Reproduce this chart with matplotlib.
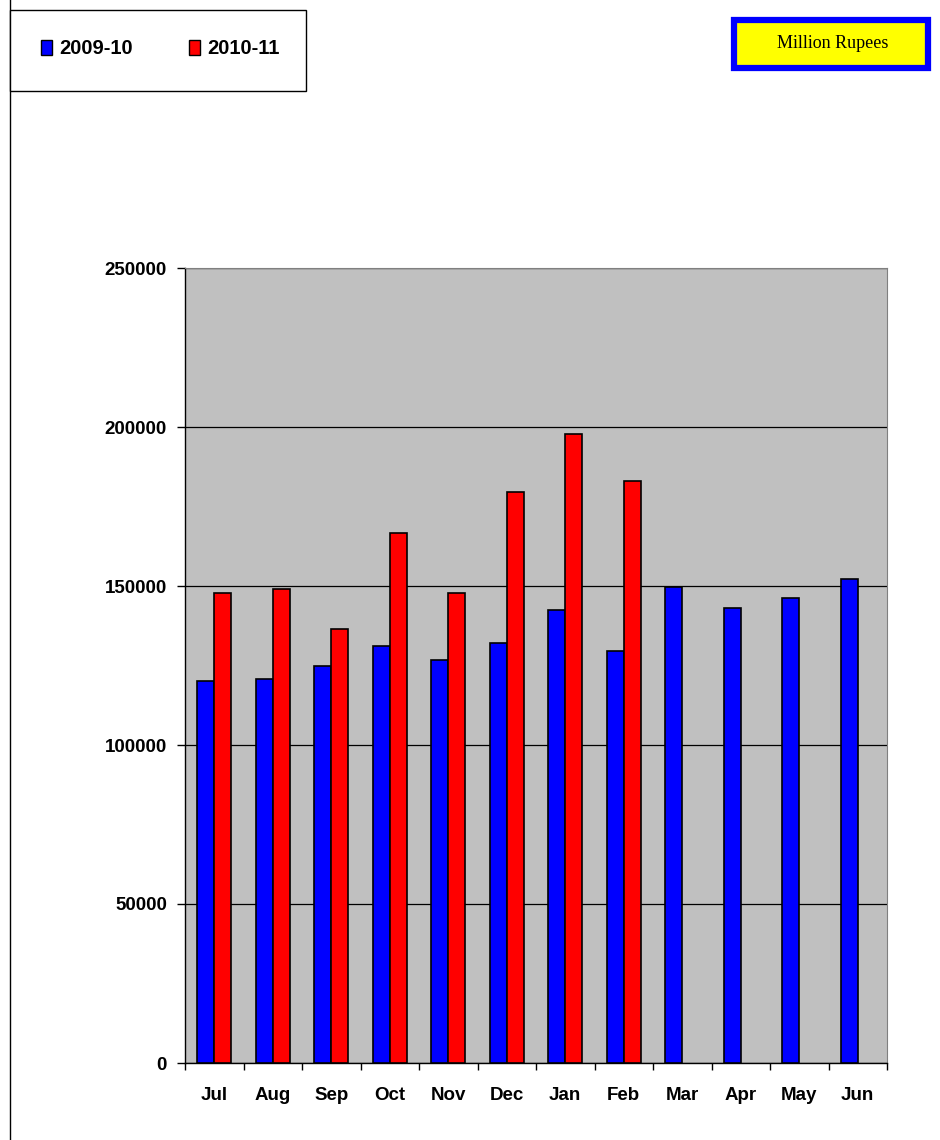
import matplotlib
matplotlib.use("Agg")
import matplotlib.pyplot as plt
from matplotlib.patches import Rectangle
import numpy as np

months = ["Jul", "Aug", "Sep", "Oct", "Nov", "Dec", "Jan", "Feb", "Mar", "Apr", "May", "Jun"]
series_names = ["2009-10", "2010-11"]
values_2009_10 = [120100, 120800, 124800, 131200, 126800, 132100, 142500, 129600, 149600, 143200, 146300, 152200]
values_2010_11 = [147800, 149000, 136500, 166700, 147800, 179700, 197900, 183000]
y_ticks = [0, 50000, 100000, 150000, 200000, 250000]
unit_label = "Million Rupees"

W, H = 940, 1140
fig = plt.figure(figsize=(W / 100, H / 100), dpi=100)
fig.patch.set_facecolor("white")

def fx(x):
    return x / W

def fy(y):
    return 1 - y / H

# outer chart-area border (top and left edges visible)
fig.add_artist(Rectangle((fx(10), fy(1200)), fx(1000), 1.2, transform=fig.transFigure,
                         fill=False, edgecolor="black", lw=1.0))

# axes
ax = fig.add_axes([fx(185), fy(1063), fx(887) - fx(185), fy(268) - fy(1063)])
ax.set_facecolor("#C0C0C0")

x = np.arange(len(months))
bw = 0.29
ax.bar(x[:len(values_2009_10)] - bw / 2, values_2009_10, width=bw, color="#0000FF",
       edgecolor="black", linewidth=1.2, zorder=3)
ax.bar(x[:len(values_2010_11)] + bw / 2, values_2010_11, width=bw, color="#FF0000",
       edgecolor="black", linewidth=1.2, zorder=3)

ax.set_xlim(-0.5, len(months) - 0.5)
ax.set_ylim(0, 250000)

ax.set_yticks(y_ticks)
ax.set_yticklabels([str(v) for v in y_ticks], fontfamily="Liberation Sans",
                   fontweight="bold", fontsize=13.5)
ax.yaxis.grid(True, color="black", linewidth=0.9, zorder=1)
ax.set_axisbelow(True)
ax.tick_params(axis="y", direction="out", length=6, width=1, pad=7)

ax.set_xticks(np.arange(len(months) + 1) - 0.5)
ax.set_xticklabels([])
ax.tick_params(axis="x", which="major", direction="out", length=5, width=1)
ax.set_xticks(x, minor=True)
ax.set_xticklabels(months, minor=True, fontfamily="Liberation Sans",
                   fontweight="bold", fontsize=13.5)
ax.tick_params(axis="x", which="minor", length=0, pad=17)

for s in ["top", "right"]:
    ax.spines[s].set_color("#808080")
for s in ["left", "bottom"]:
    ax.spines[s].set_color("black")
    ax.spines[s].set_linewidth(1.0)

# legend box
fig.add_artist(Rectangle((fx(10), fy(91)), fx(306) - fx(10), fy(10) - fy(91),
                         transform=fig.transFigure, facecolor="white",
                         edgecolor="black", lw=1.0))
leg_items = [(41, 59, "#0000FF"), (189, 207, "#FF0000")]
for (sx, tx, col), name in zip(leg_items, series_names):
    fig.add_artist(Rectangle((fx(sx), fy(55)), fx(11), fy(0) - fy(15),
                             transform=fig.transFigure, facecolor=col,
                             edgecolor="black", lw=1.0))
    fig.text(fx(tx), fy(48), name, ha="left", va="center", fontfamily="Liberation Sans",
             fontweight="bold", fontsize=14.5)

# unit box
fig.add_artist(Rectangle((fx(734), fy(68)), fx(931 - 737), fy(0) - fy(48),
                         transform=fig.transFigure, facecolor="#FFFF00",
                         edgecolor="#0000FF", lw=4.5))
fig.text(fx(833), fy(44), unit_label, ha="center", va="center",
         fontfamily="Liberation Serif", fontsize=13)

fig.savefig("out.png", dpi=100)
